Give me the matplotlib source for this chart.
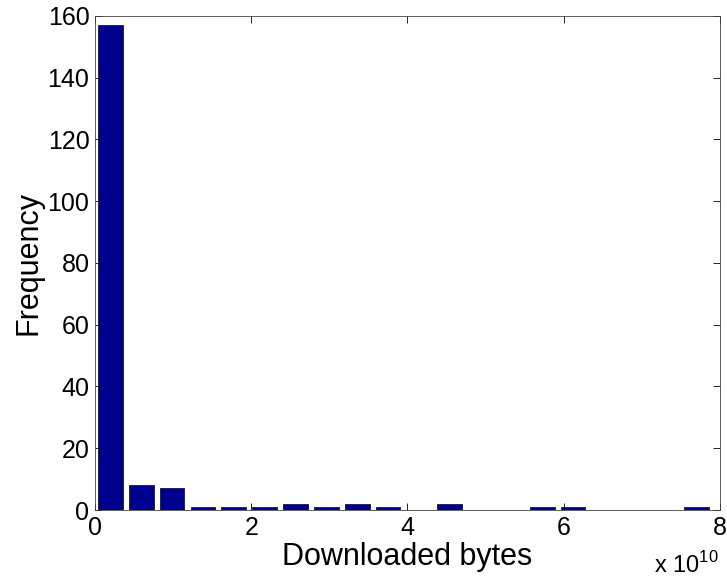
import numpy as np
import matplotlib
matplotlib.use("Agg")
from matplotlib import pyplot as plt
from matplotlib.ticker import FuncFormatter

# histogram of downloaded bytes, 20 equal bins
bin_lo = 0.0
bin_hi = 7.9e10
counts = [157, 8, 7, 1, 1, 1, 2, 1, 2, 1, 0, 2, 0, 0, 1, 1, 0, 0, 0, 1]

x_ticks = [0, 2e10, 4e10, 6e10, 8e10]
y_ticks = [0, 20, 40, 60, 80, 100, 120, 140, 160]

plt.rcParams["font.family"] = ["Liberation Sans", "DejaVu Sans"]
plt.rcParams["mathtext.fontset"] = "custom"
plt.rcParams["mathtext.rm"] = "Liberation Sans"


def main():
    edges = np.linspace(bin_lo, bin_hi, len(counts) + 1)
    centers = (edges[:-1] + edges[1:]) / 2
    width = (edges[1] - edges[0]) * 0.8

    fig = plt.figure(figsize=(7.27, 5.83), dpi=100)
    ax = fig.add_axes([0.1307, 0.1252, 0.8593, 0.8474])

    ax.bar(centers, counts, width=width, color="#00008F",
           edgecolor="#1a1a1a", linewidth=0.6)

    ax.set_xlim(0, 8e10)
    ax.set_ylim(0, 160)
    ax.set_xticks(x_ticks)
    ax.set_yticks(y_ticks)
    ax.xaxis.set_major_formatter(FuncFormatter(lambda v, p: f"{v / 1e10:g}"))

    ax.tick_params(direction="in", length=5, width=0.6, labelsize=18,
                   top=True, right=True, pad=4)
    for s in ax.spines.values():
        s.set_linewidth(0.6)
        s.set_color("#444444")

    ax.set_xlabel("Downloaded bytes", fontsize=22, labelpad=2)
    ax.set_ylabel("Frequency", fontsize=22, labelpad=3)

    fig.text(0.988, 0.008, r"x 10$^{10}$", fontsize=17, ha="right", va="bottom")

    fig.savefig("out.png", dpi=100)


if __name__ == "__main__":
    main()
